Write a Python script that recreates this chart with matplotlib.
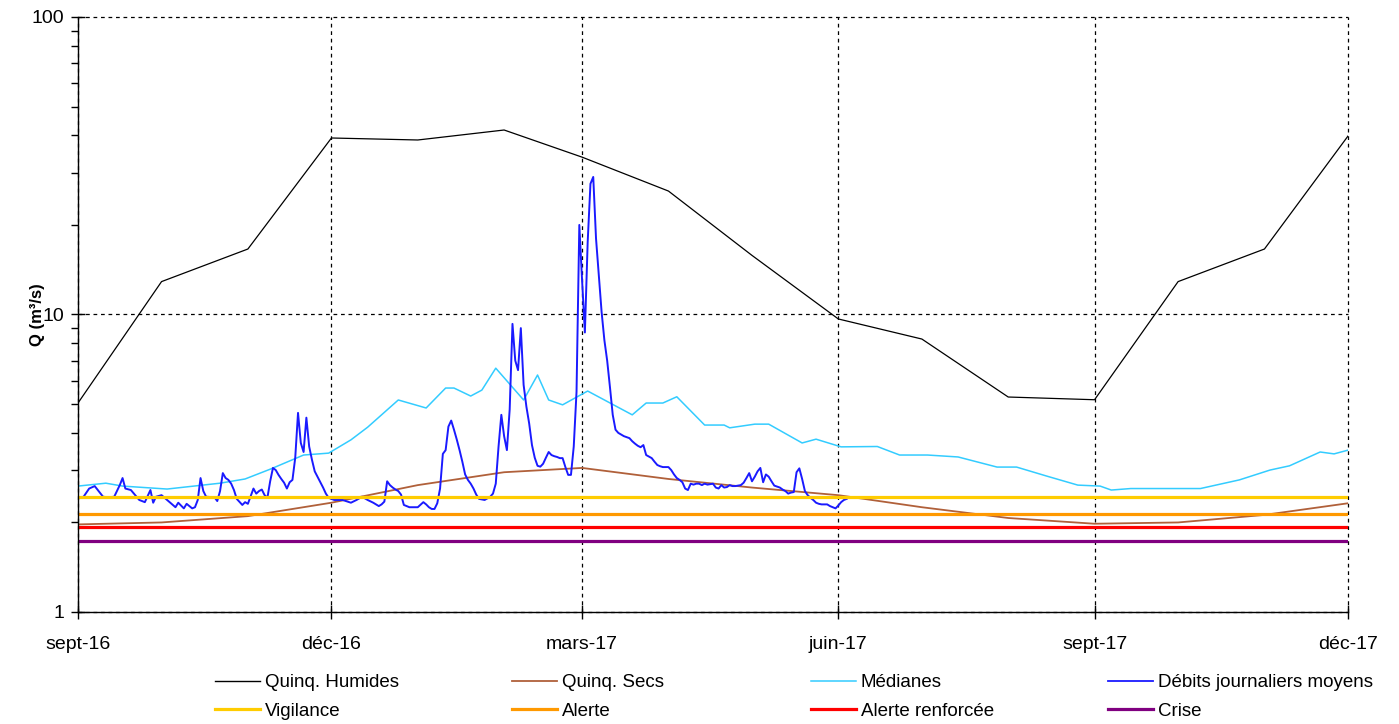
import matplotlib
matplotlib.use("Agg")
import matplotlib.pyplot as plt
import matplotlib.ticker as mticker
import pandas as pd
from matplotlib.lines import Line2D

plt.rcParams['font.family'] = ['Liberation Sans', 'DejaVu Sans']

# courbes de reference (valeurs au 1er de chaque mois)
mois = pd.date_range("2016-09-01", "2017-12-01", freq="MS")
quinq_humides = [5.04, 12.9, 16.6, 39.2, 38.6, 41.7, 33.8, 26.0, 15.8, 9.66, 8.27, 5.28, 5.17, 12.9, 16.6, 39.8]
quinq_secs = [1.97, 2.0, 2.1, 2.33, 2.67, 2.95, 3.05, 2.8, 2.62, 2.47, 2.25, 2.07, 1.98, 2.0, 2.12, 2.32]

med_dates = ["2016-09-01", "2016-09-11", "2016-09-17", "2016-10-03", "2016-10-22", "2016-10-31",
             "2016-11-09", "2016-11-21", "2016-11-30", "2016-12-08", "2016-12-14", "2016-12-25",
             "2017-01-04", "2017-01-11", "2017-01-14", "2017-01-20", "2017-01-24", "2017-01-29",
             "2017-02-08", "2017-02-13", "2017-02-17", "2017-02-22", "2017-03-03", "2017-03-19",
             "2017-03-24", "2017-03-30", "2017-04-04", "2017-04-14", "2017-04-21", "2017-04-23",
             "2017-05-02", "2017-05-07", "2017-05-19", "2017-05-24", "2017-06-02", "2017-06-15",
             "2017-06-23", "2017-07-03", "2017-07-14", "2017-07-28", "2017-08-04", "2017-08-15",
             "2017-08-26", "2017-09-03", "2017-09-07", "2017-09-14", "2017-10-09", "2017-10-23",
             "2017-11-03", "2017-11-10", "2017-11-21", "2017-11-26", "2017-12-01"]
medianes = [2.65, 2.71, 2.65, 2.59, 2.71, 2.80, 3.02, 3.37, 3.42, 3.79, 4.18, 5.16,
            4.85, 5.66, 5.66, 5.32, 5.57, 6.6, 5.16, 6.26, 5.16, 4.97, 5.53, 4.6,
            5.04, 5.04, 5.29, 4.25, 4.25, 4.16, 4.28, 4.28, 3.70, 3.81, 3.59, 3.6,
            3.37, 3.37, 3.32, 3.07, 3.07, 2.86, 2.67, 2.65, 2.57, 2.60, 2.60, 2.78,
            3.0, 3.1, 3.45, 3.40, 3.5]

# debits journaliers moyens, jour -> valeur, par mois
debits_2016_09 = {1: 2.42, 3: 2.44, 5: 2.60, 7: 2.65, 10: 2.44, 12: 2.43, 14: 2.44, 16: 2.67, 17: 2.82,
                  18: 2.60, 20: 2.57, 22: 2.44, 23: 2.38, 25: 2.34, 27: 2.57, 28: 2.33, 29: 2.44}
debits_2016_10 = {1: 2.47, 3: 2.38, 6: 2.25, 7: 2.33, 9: 2.23, 10: 2.31, 12: 2.23, 13: 2.25, 14: 2.38,
                  15: 2.82, 16: 2.55, 17: 2.44, 20: 2.43, 21: 2.36, 22: 2.55, 23: 2.93, 24: 2.82,
                  25: 2.78, 26: 2.70, 27: 2.57, 28: 2.40, 30: 2.29, 31: 2.34}
debits_2016_11 = {1: 2.31, 2: 2.45, 3: 2.6, 4: 2.5, 5: 2.55, 6: 2.58, 7: 2.47, 8: 2.42, 9: 2.75, 10: 3.05,
                  11: 3.0, 12: 2.89, 13: 2.8, 14: 2.72, 15: 2.60, 16: 2.73, 17: 2.78, 18: 3.3, 19: 4.67,
                  20: 3.7, 21: 3.45, 22: 4.5, 23: 3.6, 24: 3.25, 25: 2.97, 26: 2.85, 27: 2.73, 28: 2.62,
                  29: 2.5, 30: 2.42}
debits_2016_12 = {2: 2.38, 5: 2.38, 8: 2.33, 10: 2.38, 12: 2.44, 14: 2.38, 16: 2.33, 18: 2.27, 19: 2.30,
                  20: 2.35, 21: 2.75, 22: 2.67, 23: 2.62, 24: 2.58, 25: 2.55, 26: 2.48, 27: 2.29,
                  29: 2.25, 31: 2.25}
debits_2017_01 = {1: 2.25, 3: 2.34, 4: 2.30, 5: 2.25, 6: 2.22, 7: 2.22, 8: 2.32, 9: 2.6, 10: 3.4, 11: 3.5,
                  12: 4.2, 13: 4.4, 14: 4.1, 15: 3.8, 16: 3.5, 17: 3.2, 18: 2.9, 19: 2.78, 20: 2.70,
                  21: 2.6, 22: 2.48, 23: 2.40, 25: 2.38, 27: 2.44, 28: 2.50, 29: 2.70, 30: 3.6, 31: 4.6}
debits_2017_02 = {1: 3.9, 2: 3.5, 3: 4.8, 4: 9.3, 5: 7.0, 6: 6.5, 7: 9.0, 8: 5.8, 9: 4.9, 10: 4.3,
                  11: 3.64, 12: 3.3, 13: 3.1, 14: 3.08, 15: 3.15, 16: 3.3, 17: 3.45, 18: 3.37, 19: 3.34,
                  20: 3.32, 21: 3.29, 22: 3.29, 23: 3.07, 24: 2.89, 25: 2.89, 26: 3.6, 27: 5.5, 28: 20.0}
debits_2017_03 = {1: 13.0, 2: 8.7, 3: 17.5, 4: 27.5, 5: 29.0, 6: 18.0, 7: 13.5, 8: 10.2, 9: 8.2, 10: 7.0,
                  11: 5.7, 12: 4.6, 13: 4.1, 14: 4.0, 15: 3.95, 16: 3.9, 17: 3.87, 18: 3.84, 19: 3.75,
                  20: 3.68, 21: 3.62, 22: 3.58, 23: 3.64, 24: 3.37, 25: 3.33, 26: 3.29, 27: 3.2,
                  28: 3.12, 29: 3.09, 30: 3.07, 31: 3.07}
debits_2017_04 = {1: 3.07, 2: 3.0, 3: 2.9, 4: 2.82, 5: 2.78, 6: 2.73, 7: 2.6, 8: 2.57, 9: 2.70, 10: 2.68,
                  11: 2.70, 12: 2.70, 13: 2.67, 14: 2.70, 15: 2.68, 16: 2.69, 17: 2.70, 18: 2.62,
                  19: 2.60, 20: 2.67, 21: 2.62, 22: 2.63, 23: 2.67, 24: 2.65, 25: 2.65, 26: 2.66,
                  27: 2.67, 28: 2.72, 29: 2.82, 30: 2.93}
debits_2017_05 = {1: 2.75, 2: 2.85, 3: 2.97, 4: 3.05, 5: 2.73, 6: 2.9, 7: 2.85, 8: 2.75, 9: 2.66, 10: 2.64,
                  11: 2.62, 12: 2.58, 13: 2.55, 14: 2.50, 15: 2.52, 16: 2.53, 17: 2.95, 18: 3.04,
                  19: 2.80, 20: 2.55, 21: 2.47, 22: 2.42, 23: 2.38, 24: 2.33, 25: 2.31, 26: 2.30,
                  27: 2.30, 28: 2.30, 29: 2.27, 30: 2.25, 31: 2.23}
debits_2017_06 = {1: 2.28, 2: 2.34, 3: 2.38, 4: 2.40}

# seuils
vigilance = 2.44
alerte = 2.13
alerte_renforcee = 1.93
crise = 1.73

tick_dates = ["2016-09-01", "2016-12-01", "2017-03-01", "2017-06-01", "2017-09-01", "2017-12-01"]
tick_labels = ["sept-16", "déc-16", "mars-17", "juin-17", "sept-17", "déc-17"]

debits = {}
for (annee, m), d in [((2016, 9), debits_2016_09), ((2016, 10), debits_2016_10),
                      ((2016, 11), debits_2016_11), ((2016, 12), debits_2016_12),
                      ((2017, 1), debits_2017_01), ((2017, 2), debits_2017_02),
                      ((2017, 3), debits_2017_03), ((2017, 4), debits_2017_04),
                      ((2017, 5), debits_2017_05), ((2017, 6), debits_2017_06)]:
    for jour, v in d.items():
        debits[pd.Timestamp(annee, m, jour)] = v
debits = pd.Series(debits).sort_index()

fig = plt.figure(figsize=(13.99, 7.24), dpi=100)
ax = fig.add_axes([78 / 1399, 1 - 612 / 724, 1270 / 1399, 595 / 724])

c_hum, c_sec, c_med, c_deb = "black", "#B0603A", "#33CCFF", "#1a1aff"
c_vig, c_ale, c_ren, c_cri = "#FFCC00", "#FF9900", "#FF0000", "#800080"

ax.plot(mois, quinq_humides, color=c_hum, lw=0.9)
ax.plot(mois, quinq_secs, color=c_sec, lw=1.3)
ax.plot(pd.to_datetime(med_dates), medianes, color=c_med, lw=1.1)
ax.plot(debits.index, debits.values, color=c_deb, lw=1.4)
for val, col in [(vigilance, c_vig), (alerte, c_ale), (alerte_renforcee, c_ren), (crise, c_cri)]:
    ax.axhline(val, color=col, lw=2.3)

ax.set_yscale("log")
ax.set_ylim(1, 100)
ax.set_xlim(pd.Timestamp(tick_dates[0]), pd.Timestamp(tick_dates[-1]))
ax.yaxis.set_major_locator(mticker.FixedLocator([1, 10, 100]))
ax.yaxis.set_major_formatter(mticker.FixedFormatter(["1", "10", "100"]))
ax.yaxis.set_minor_locator(mticker.LogLocator(base=10, subs=range(2, 10)))
ax.yaxis.set_minor_formatter(mticker.NullFormatter())
ax.set_xticks(pd.to_datetime(tick_dates))
ax.set_xticklabels(tick_labels)
ax.xaxis.set_minor_locator(mticker.NullLocator())

ax.tick_params(which="major", direction="inout", length=10, width=1, labelsize=14, colors="black")
ax.tick_params(axis="x", which="major", pad=12)
ax.tick_params(axis="y", which="major", pad=5)
ax.tick_params(axis="y", which="minor", direction="out", length=5, width=1)

ax.grid(which="major", color="black", linestyle=(0, (3, 3)), linewidth=0.9)
ax.set_axisbelow(True)
for gl in ax.get_xgridlines() + ax.get_ygridlines():
    gl.set_clip_on(False)
for s in ["top", "right"]:
    ax.spines[s].set_visible(False)
for s in ["left", "bottom"]:
    ax.spines[s].set_linewidth(1)

ax.set_ylabel("Q (m³/s)", fontsize=12, fontweight="bold")
ax.yaxis.set_label_coords(-0.026, 0.5)

# legende : 4 colonnes, 2 lignes
colonnes = [
    [("Quinq. Humides", c_hum, 1.0), ("Vigilance", c_vig, 2.3)],
    [("Quinq. Secs", c_sec, 1.3), ("Alerte", c_ale, 2.3)],
    [("Médianes", c_med, 1.1), ("Alerte renforcée", c_ren, 2.3)],
    [("Débits journaliers moyens", c_deb, 1.3), ("Crise", c_cri, 2.3)],
]
x_col = [215, 512, 811, 1108]
for xc, items in zip(x_col, colonnes):
    handles = [Line2D([], [], color=c, lw=lw) for _, c, lw in items]
    leg = fig.legend(handles, [t for t, _, _ in items], loc="upper left",
                     bbox_to_anchor=(xc / 1399, 1 - 674 / 724), frameon=False,
                     fontsize=13.5, handlelength=2.4, handletextpad=0.25,
                     borderpad=0, borderaxespad=0, labelspacing=0.62)

fig.savefig("out.png", dpi=100)
